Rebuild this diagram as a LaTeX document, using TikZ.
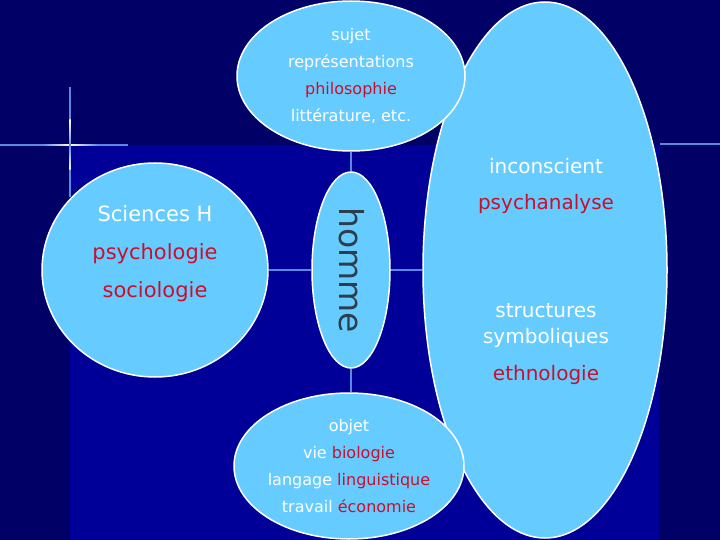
\documentclass[tikz,border=0pt]{standalone}
\usepackage{fontspec}
\setmainfont{DejaVu Sans}
\usepackage{xcolor}
\usetikzlibrary{shapes.geometric}
\definecolor{navy}{HTML}{000066}
\definecolor{panel}{HTML}{000099}
\definecolor{ciel}{HTML}{66CCFF}
\definecolor{rouge}{HTML}{C8102E}
\definecolor{lien}{HTML}{5A8AE0}
\definecolor{ardoise}{HTML}{2E3D4D}

\begin{document}
\begin{tikzpicture}[x=1pt,y=-1pt,
    bulle/.style={ellipse,draw=white,line width=1.5pt,fill=ciel,inner sep=0pt},
    lien/.style={draw=lien,line width=1.5pt},
    txt/.style={text=white,align=center,inner sep=0pt},
    petit/.style={font=\fontsize{16}{27}\selectfont},
    grand/.style={font=\fontsize{21}{38}\selectfont}]
        \useasboundingbox (0,0) rectangle (720,540);
        \fill[navy] (0,0) rectangle (720,540);
        \fill[panel] (70,145) rectangle (660,540);
        \draw[lien,line width=1.2pt] (0,145) -- (128,145);
        \draw[lien,line width=1.2pt] (70,87) -- (70,197);
        \draw[lien,line width=1.2pt] (660,144) -- (720,144);
        \shade[left color=lien,right color=white] (42,144.3) rectangle (70,145.7);
        \shade[left color=white,right color=lien] (70,144.3) rectangle (98,145.7);
        \shade[top color=white,bottom color=lien] (69.3,145) rectangle (70.7,120);
        \shade[top color=lien,bottom color=white] (69.3,170) rectangle (70.7,145);

        \node[bulle,minimum width=244pt,minimum height=536pt] (droite) at (545,270) {};
        \node[bulle,minimum width=228pt,minimum height=150pt] (sujet) at (351,76) {};
        \node[bulle,minimum width=226pt,minimum height=214pt] (sciences) at (155,270) {};
        \node[bulle,minimum width=78pt,minimum height=196pt] (homme) at (351,270) {};
        \node[bulle,minimum width=230pt,minimum height=146pt] (objet) at (349,466) {};

        \draw[lien] (sujet.south) -- (homme.north);
        \draw[lien] (homme.south) -- (homme.south |- objet.north);
        \draw[lien] (sciences.east) -- (homme.west);
        \draw[lien] (homme.east) -- (droite.west);

        \node[txt,petit] (t-sujet) at (sujet) {sujet\\représentations\\\textcolor{rouge}{philosophie}\\littérature, etc.};
        \node[txt,grand] (t-sciences) at (155,254) {Sciences H\\\textcolor{rouge}{psychologie}\\\textcolor{rouge}{sociologie}};
        \node[rotate=-90,text=ardoise,inner sep=0pt,font=\fontsize{33}{36}\selectfont] (t-homme) at (352,270) {homme};
        \node[txt,font=\fontsize{20}{36}\selectfont] (t-incon) at (546,186) {inconscient\\\textcolor{rouge}{psychanalyse}};
        \node[txt,font=\fontsize{20}{26}\selectfont] (t-struct) at (546,344) {structures\\symboliques\\[11pt]\textcolor{rouge}{ethnologie}};
        \node[txt,petit] (t-objet) at (objet) {objet\\vie \textcolor{rouge}{biologie}\\langage \textcolor{rouge}{linguistique}\\travail \textcolor{rouge}{économie}};
    \end{tikzpicture}
\end{document}
